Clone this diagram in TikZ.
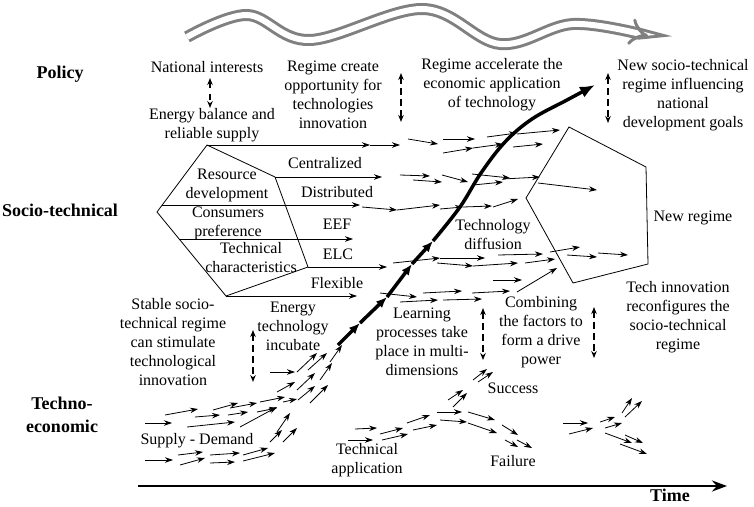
\documentclass[tikz,border=0pt]{standalone}
\usepackage{fontspec}
\setmainfont{Liberation Serif}
\usetikzlibrary{arrows.meta}
\begin{document}
\begin{tikzpicture}[x=1pt,y=-1pt,
  txt/.style={font=\fontsize{16}{19}\selectfont, align=center, inner sep=0pt},
  lvl/.style={font=\fontsize{18}{23}\selectfont\bfseries, align=center, inner sep=0pt},
  sa/.style={line width=0.8pt, -{Stealth[length=8pt,width=5.5pt]}},
  poly/.style={line width=0.8pt},
  dbl/.style={line width=1.2pt, {Stealth[length=7pt,width=5.5pt]}-{Stealth[length=7pt,width=5.5pt]}, dash pattern=on 7pt off 4pt},
  mainseg/.style={line width=3.5pt, -{Latex[length=11pt,width=9pt]}},
  mainend/.style={line width=3.5pt, -{Latex[length=15pt,width=12pt]}},
  wave/.style={draw=gray, line width=3pt, double=white, double distance=6pt, -{Implies}},
]
\useasboundingbox (0,0) rectangle (754,506);

% wavy policy arrow
\draw[wave] plot[smooth, tension=0.6] coordinates {(187,37) (247,15) (310,40) (423,9) (500,44) (573,24) (648,36)};

% level labels
\node[lvl] (policy) at (60,74) {Policy};
\node[lvl] (socio) at (60,210) {Socio-technical};
\node[lvl] (techno) at (62,415) {Techno-\\economic};
\node[lvl] (time) at (670,495) {Time};

% texts
\node[txt] (natint) at (207,67) {National interests};
\node[txt] (enbal) at (212,125) {Energy balance and\\reliable supply};
\node[txt] (regcreate) at (333,95) {Regime create\\opportunity for\\technologies\\innovation};
\node[txt] (regacc) at (492,85) {Regime accelerate the\\economic application\\of technology};
\node[txt] (newst) at (683,95) {New socio-technical\\regime influencing\\national\\development goals};
\node[txt] (resdev) at (227,185) {Resource\\development};
\node[txt] (consum) at (228,223) {Consumers\\preference};
\node[txt] (techchar) at (251,258) {Technical\\characteristics};
\node[txt] (central) at (325,163) {Centralized};
\node[txt] (distrib) at (337,192) {Distributed};
\node[txt] (eef) at (337,224) {EEF};
\node[txt] (elc) at (338,254) {ELC};
\node[txt] (flex) at (337,283) {Flexible};
\node[txt] (techdiff) at (493,235) {Technology\\diffusion};
\node[txt] (newreg) at (693,218) {New regime};
\node[txt] (techinn) at (678,317) {Tech innovation\\reconfigures the\\socio-technical\\regime};
\node[txt] (combin) at (541,332) {Combining\\the factors to\\form a drive\\power};
\node[txt] (learn) at (422,342) {Learning\\processes take\\place in multi-\\dimensions};
\node[txt] (stable) at (173,342) {Stable socio-\\technical regime\\can stimulate\\technological\\innovation};
\node[txt] (entech) at (293,326) {Energy\\technology\\incubate};
\node[txt] (supply) at (197,441) {Supply - Demand};
\node[txt] (techapp) at (367,460) {Technical\\application};
\node[txt] (success) at (513,388) {Success};
\node[txt] (failure) at (513,461) {Failure};

% double arrows
\draw[dbl, dash pattern=on 6pt off 6pt] (210,78) -- (210,108);
\draw[dbl] (401,73) -- (401,122);
\draw[dbl] (608,73) -- (608,123);
\draw[dbl] (253,330) -- (253,382);
\draw[dbl] (483,308) -- (483,360);
\draw[dbl] (594,307) -- (594,358);

% regime polygons
\coordinate (pa) at (207,145);
\coordinate (pb) at (275,177);
\coordinate (pc) at (308,267);
\coordinate (pd) at (226,296);
\coordinate (pe) at (157,212);
\draw[poly] (pa) -- (pb) -- (pc) -- (pd) -- (pe) -- cycle;
\draw[poly] (569,127) -- (646,167) -- (648,264) -- (573,283) -- (526,198) -- cycle;

% lines leaving the regime
\coordinate (ea) at (370,145);
\coordinate (eb) at (382,177);
\coordinate (ec) at (360,205);
\coordinate (ed) at (353,239);
\coordinate (ee) at (387,267);
\coordinate (ef) at (357,296);
\draw[sa] (pa) -- (ea);
\draw[sa] (ea) -- (400,145);
\draw[sa] (pb) -- (eb);
\draw[sa] (162,205) -- (ec);
\draw[sa] (179,239) -- (ed);
\draw[sa] (pc) -- (ee);
\draw[sa] (pd) -- (ef);

% small arrows
\foreach \a/\b/\c/\d in {
  408/139/438/144, 443/139/475/139, 487/137/517/133, 443/153/473/148, 473/148/503/144, 517/134/560/130, 513/147/543/144,
  400/175/430/176, 413/180/442/182, 442/175/468/182, 472/174/510/178, 473/185/503/182, 503/179/540/177, 538/183/597/190,
  362/207/397/210, 397/210/440/205, 440/209/463/207, 463/207/492/206, 493/207/518/199,
  393/263/440/258, 440/258/485/258, 437/263/473/266, 473/266/518/263, 498/255/543/254, 525/263/555/259, 550/252/580/247, 567/255/597/257, 598/253/628/255,
  380/293/417/297, 400/302/438/300, 423/293/462/291, 443/300/482/299, 472/293/510/291, 493/280/522/280, 517/292/557/268,
  145/423/172/423, 165/415/198/409, 195/417/220/415, 213/410/238/403, 187/427/235/422, 230/408/257/403, 228/415/248/412,
  240/427/277/407, 260/402/285/397, 257/412/277/408, 277/392/295/382, 283/402/297/399, 270/372/295/372, 297/372/317/353,
  297/390/315/373, 308/370/327/353, 298/400/315/386, 310/403/328/385, 320/380/332/363, 330/362/342/345,
  145/460/173/460, 178/455/203/452, 180/465/205/458, 210/455/240/453, 210/463/235/462, 243/455/268/448, 243/461/275/453,
  270/442/282/430, 277/432/290/413, 283/442/297/428,
  355/429/377/428, 348/440/373/440, 380/434/403/428, 382/440/408/434, 407/423/430/415, 413/430/437/425, 437/412/462/412,
  440/420/467/422, 448/400/463/390, 453/407/467/393, 473/380/487/369, 478/382/493/372, 468/412/495/420, 468/423/497/433,
  502/425/518/435, 505/440/518/447, 517/440/532/448,
  563/423/588/423, 569/434/593/428, 600/422/615/417, 605/428/622/423, 622/413/632/398, 625/417/642/401,
  605/433/632/443, 625/435/643/443, 620/444/647/454}
  \draw[sa] (\a,\b) -- (\c,\d);

% main diffusion curve
\coordinate (m0) at (338,345);
\coordinate (m1) at (360,323);
\coordinate (m2) at (387,297);
\coordinate (m3) at (412,264);
\coordinate (m4) at (433,241);
\draw[mainseg] (m0) -- (m1);
\draw[mainseg] (m1) -- (m2);
\draw[mainseg] (m2) -- (m3);
\draw[mainseg] (m3) -- (m4);
\draw[mainend] plot[smooth, tension=0.6] coordinates {(m4) (460,207) (481,173) (505,142) (532,119) (567,100) (595,85)};

% time axis
\coordinate (t0) at (138,486);
\coordinate (t1) at (727,486);
\draw[line width=2.5pt, -{Stealth[length=15pt,width=11pt]}] (t0) -- (t1);
\end{tikzpicture}
\end{document}
